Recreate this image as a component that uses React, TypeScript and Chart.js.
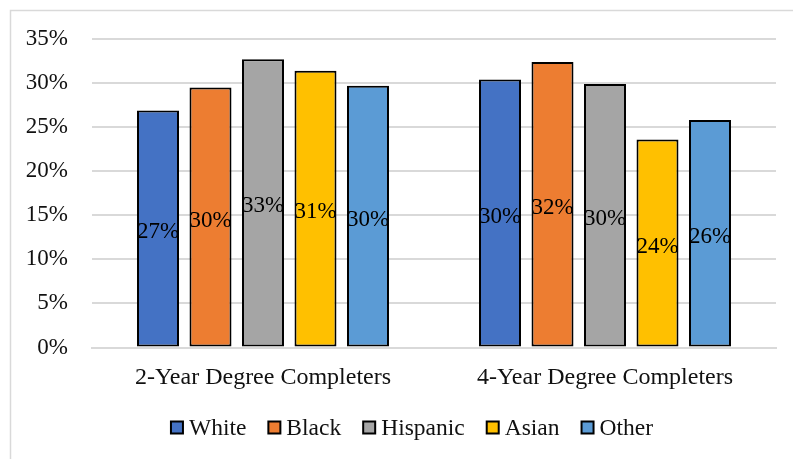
import React, { useEffect, useRef } from 'react';
import { Chart, registerables } from 'chart.js';

Chart.register(...registerables);

// Completion rates (percent) by group for each completer type
const categories = ['2-Year Degree Completers', '4-Year Degree Completers'];
const groupNames = ['White', 'Black', 'Hispanic', 'Asian', 'Other'];
const whiteValues = [26.9, 30.4];
const blackValues = [29.5, 32.4];
const hispanicValues = [32.7, 29.9];
const asianValues = [31.4, 23.6];
const otherValues = [29.7, 25.8];
const groupColors = ['#4472C4', '#ED7D31', '#A5A5A5', '#FFC000', '#5B9BD5'];
const yMin = 0;
const yMax = 35;
const yStep = 5;

const FONT_FAMILY = "'Liberation Serif', 'Times New Roman', serif";
const FONT_SIZE = 23;
const TEXT_COLOR = '#111';
const GRID_COLOR = '#d9d9d9';

// Light frame along the top and left edges
const framePlugin = {
  id: 'frame',
  beforeDraw(chart: any) {
    const { ctx, width, height } = chart;
    ctx.save();
    ctx.strokeStyle = GRID_COLOR;
    ctx.lineWidth = 1.5;
    ctx.beginPath();
    ctx.moveTo(10.5, height);
    ctx.lineTo(10.5, 10.5);
    ctx.lineTo(width, 10.5);
    ctx.stroke();
    ctx.restore();
  },
};

// Percentage labels centred inside every bar
const barLabelPlugin = {
  id: 'barLabels',
  afterDatasetsDraw(chart: any) {
    const { ctx } = chart;
    ctx.save();
    ctx.font = `${FONT_SIZE}px ${FONT_FAMILY}`;
    ctx.fillStyle = '#000';
    ctx.textAlign = 'center';
    ctx.textBaseline = 'middle';
    chart.data.datasets.forEach((ds: any, i: number) => {
      const meta = chart.getDatasetMeta(i);
      meta.data.forEach((el: any, j: number) => {
        const v = ds.data[j] as number;
        const y = (el.y + el.base) / 2 + 3.5;
        ctx.fillText(`${Math.round(v)}%`, el.x, y);
      });
    });
    ctx.restore();
  },
};

// Legend row below the category labels
const legendPlugin = {
  id: 'bottomLegend',
  afterDraw(chart: any) {
    const { ctx, width } = chart;
    const box = 14;
    const boxGap = 5;
    const itemGap = 21;
    const cy = 427.5;
    ctx.save();
    ctx.font = `${FONT_SIZE + 0.5}px ${FONT_FAMILY}`;
    const items = chart.data.datasets.map((ds: any) => ({
      label: ds.label as string,
      color: ds.backgroundColor as string,
      w: ctx.measureText(ds.label).width,
    }));
    const total =
      items.reduce((s: number, it: any) => s + box + boxGap + it.w, 0) +
      itemGap * (items.length - 1);
    let x = width / 2 + 15 - total / 2;
    items.forEach((it: any) => {
      ctx.fillStyle = '#000';
      ctx.fillRect(x, cy - box / 2, box, box);
      ctx.fillStyle = it.color;
      ctx.fillRect(x + 2, cy - box / 2 + 2, box - 4, box - 4);
      ctx.fillStyle = TEXT_COLOR;
      ctx.textAlign = 'left';
      ctx.textBaseline = 'middle';
      ctx.fillText(it.label, x + box + boxGap, cy + 1);
      x += box + boxGap + it.w + itemGap;
    });
    ctx.restore();
  },
};

export default function App() {
  const canvasRef = useRef<HTMLCanvasElement | null>(null);

  useEffect(() => {
    document.body.style.margin = '0';
    const canvas = canvasRef.current;
    if (!canvas) return;
    const seriesValues = [whiteValues, blackValues, hispanicValues, asianValues, otherValues];
    const chart = new Chart(canvas, {
      type: 'bar',
      data: {
        labels: categories,
        datasets: groupNames.map((name, i) => ({
          label: name,
          data: seriesValues[i],
          backgroundColor: groupColors[i],
          borderColor: '#000',
          borderWidth: 2,
          borderSkipped: false,
          categoryPercentage: 0.7675,
          barPercentage: 0.8,
        })),
      },
      options: {
        animation: false,
        responsive: false,
        devicePixelRatio: 1,
        layout: { padding: { top: 39, right: 17, bottom: 51.5, left: 0 } },
        plugins: {
          legend: { display: false },
          tooltip: { enabled: false },
        },
        scales: {
          x: {
            grid: { display: false, drawTicks: false },
            border: { display: true, color: GRID_COLOR, width: 2 },
            ticks: {
              color: TEXT_COLOR,
              padding: 16,
              font: { family: FONT_FAMILY, size: 24 },
            },
            afterFit(scale: any) {
              scale.height = 60;
            },
          },
          y: {
            min: yMin,
            max: yMax,
            grid: { color: GRID_COLOR, lineWidth: 2, drawTicks: false },
            border: { display: false },
            ticks: {
              stepSize: yStep,
              color: TEXT_COLOR,
              padding: 24,
              font: { family: FONT_FAMILY, size: FONT_SIZE },
              callback: (v: any) => `${v}%`,
            },
            afterFit(scale: any) {
              scale.width = 92;
            },
          },
        },
      },
      plugins: [framePlugin, barLabelPlugin, legendPlugin],
    });
    return () => chart.destroy();
  }, []);

  return (
    <div style={{ width: 793, height: 459, background: '#fff' }}>
      <canvas ref={canvasRef} width={793} height={459} style={{ display: 'block' }} />
    </div>
  );
}
